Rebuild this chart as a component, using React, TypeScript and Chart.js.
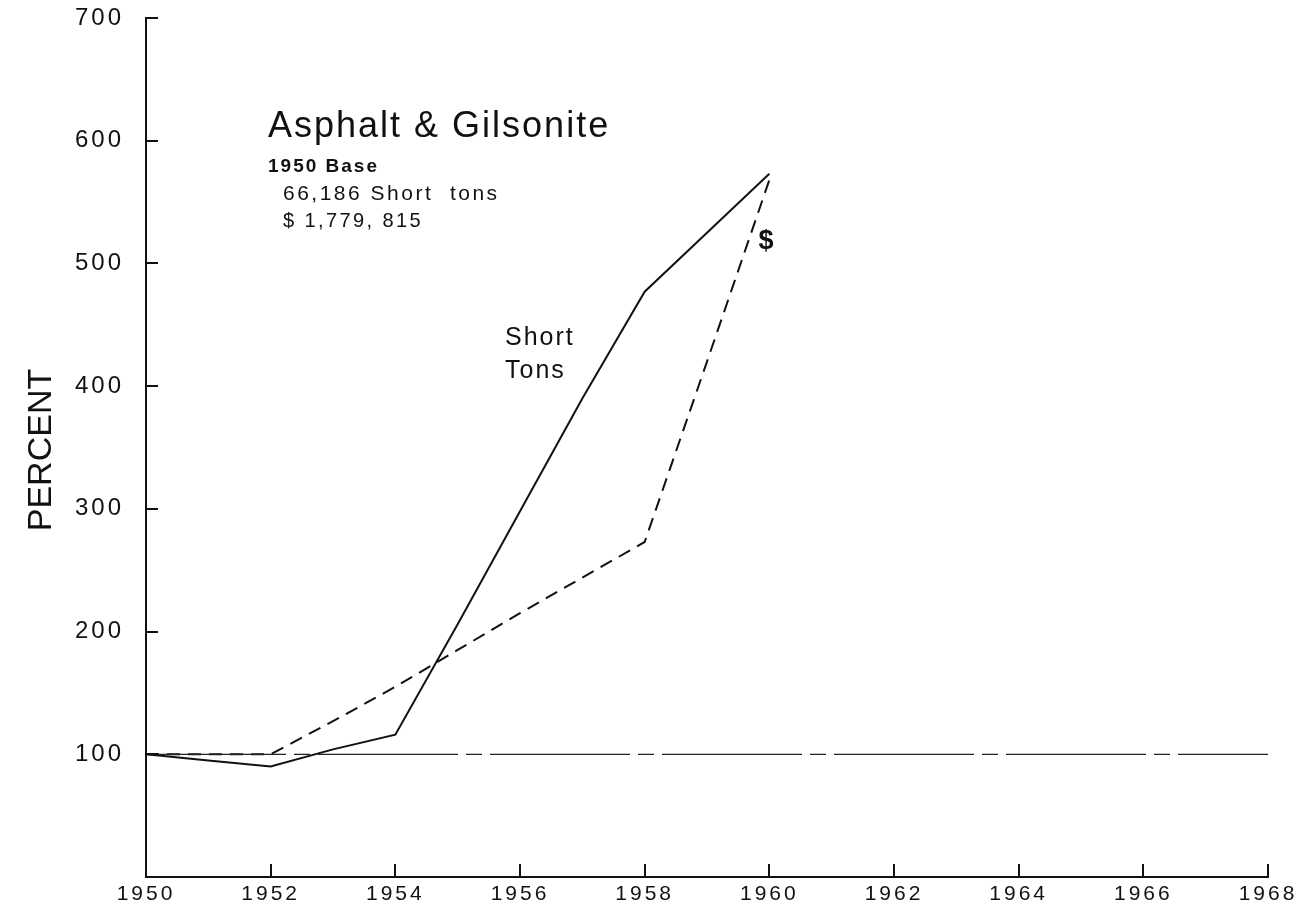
import React, { useEffect, useRef } from 'react';
import { Chart, registerables } from 'chart.js';

Chart.register(...registerables);

const years = [1950, 1951, 1952, 1953, 1954, 1955, 1956, 1957, 1958, 1959, 1960];
const shortTons = [100, 95, 90, 104, 116, 206, 298, 390, 477, 525, 573];
const dollars = [100, 100, 100, 127, 155, 185, 215, 244, 273, 420, 568];
const baseYears = [1950, 1968];
const baseValues = [100, 100];

const X_MIN = 1950;
const X_MAX = 1968;
const X_STEP = 2;
const Y_MIN = 0;
const Y_MAX = 700;
const Y_STEP = 100;

const titleText = 'Asphalt & Gilsonite';
const baseText = '1950 Base';
const tonsText = '66,186 Short  tons';
const valueText = '$ 1,779, 815';
const seriesLabel1 = ['Short', 'Tons'];
const seriesLabel2 = '$';
const yTitle = 'PERCENT';

const FONT = '"Liberation Sans", Arial, sans-serif';

const toPoints = (xs: number[], ys: number[]) => xs.map((x, i) => ({ x, y: ys[i] }));

const annotationPlugin = {
  id: 'annotations',
  beforeDraw(chart: any) {
    const ctx = chart.ctx;
    ctx.letterSpacing = '3px';
  },
  afterDraw(chart: any) {
    const ctx = chart.ctx;
    const { left, bottom } = chart.chartArea;
    const xs = chart.scales.x;
    const ys = chart.scales.y;
    ctx.save();
    ctx.strokeStyle = '#111';
    ctx.lineWidth = 2;
    // inside tick marks
    for (let v = Y_MIN + Y_STEP; v <= Y_MAX; v += Y_STEP) {
      const py = Math.round(ys.getPixelForValue(v));
      ctx.beginPath();
      ctx.moveTo(left, py);
      ctx.lineTo(left + 12, py);
      ctx.stroke();
    }
    for (let v = X_MIN + X_STEP; v <= X_MAX; v += X_STEP) {
      const px = Math.round(xs.getPixelForValue(v));
      ctx.beginPath();
      ctx.moveTo(px, bottom);
      ctx.lineTo(px, bottom - 13);
      ctx.stroke();
    }

    ctx.fillStyle = '#111';
    ctx.textAlign = 'left';
    ctx.textBaseline = 'alphabetic';

    ctx.letterSpacing = '2px';
    ctx.font = `36px ${FONT}`;
    ctx.fillText(titleText, 268, 137, 360);

    ctx.letterSpacing = '2px';
    ctx.font = `bold 19px ${FONT}`;
    ctx.fillText(baseText, 268, 172, 118);

    ctx.font = `21px ${FONT}`;
    ctx.letterSpacing = '2.5px';
    ctx.fillText(tonsText, 283, 200, 226);
    ctx.fillText(valueText, 283, 227, 140);

    ctx.font = `25px ${FONT}`;
    ctx.letterSpacing = '2px';
    ctx.fillText(seriesLabel1[0], 505, 345);
    ctx.fillText(seriesLabel1[1], 505, 378);

    ctx.font = `bold 27px ${FONT}`;
    ctx.letterSpacing = '0px';
    ctx.textAlign = 'center';
    ctx.fillText(seriesLabel2, 766, 249);

    // y-axis title
    ctx.save();
    ctx.translate(51, 450);
    ctx.rotate(-Math.PI / 2);
    ctx.font = `34px ${FONT}`;
    ctx.letterSpacing = '0px';
    ctx.textAlign = 'center';
    ctx.textBaseline = 'alphabetic';
    ctx.fillText(yTitle, 0, 0, 164);
    ctx.restore();

    ctx.restore();
  },
};

export default function App() {
  const canvasRef = useRef<HTMLCanvasElement | null>(null);

  useEffect(() => {
    const canvas = canvasRef.current;
    if (!canvas) return;
    const chart = new Chart(canvas, {
      type: 'line',
      data: {
        datasets: [
          {
            label: 'Base',
            data: toPoints(baseYears, baseValues),
            borderColor: '#222',
            borderWidth: 1.2,
            borderDash: [140, 8, 16, 8],
            pointRadius: 0,
            fill: false,
            tension: 0,
          },
          {
            label: '$',
            data: toPoints(years, dollars),
            borderColor: '#111',
            borderWidth: 2,
            borderDash: [13, 8],
            pointRadius: 0,
            fill: false,
            tension: 0,
          },
          {
            label: 'Short Tons',
            data: toPoints(years, shortTons),
            borderColor: '#111',
            borderWidth: 2,
            pointRadius: 0,
            fill: false,
            tension: 0,
          },
        ],
      },
      options: {
        responsive: false,
        animation: false,
        devicePixelRatio: 1,
        layout: { padding: { top: 18, right: 38, left: 0, bottom: 0 } },
        plugins: {
          legend: { display: false },
          tooltip: { enabled: false },
        },
        scales: {
          x: {
            type: 'linear',
            min: X_MIN,
            max: X_MAX,
            grid: { display: false, drawTicks: false },
            border: { display: true, color: '#111', width: 2 },
            ticks: {
              stepSize: X_STEP,
              color: '#111',
              padding: 5,
              maxRotation: 0,
              autoSkip: false,
              font: { family: FONT, size: 21 },
              callback: (v: any) => String(v),
            },
            afterFit: (scale: any) => {
              scale.height = 32;
              scale.paddingLeft = 0;
              scale.paddingRight = 0;
            },
          },
          y: {
            min: Y_MIN,
            max: Y_MAX,
            grid: { display: false, drawTicks: false },
            border: { display: true, color: '#111', width: 2 },
            ticks: {
              stepSize: Y_STEP,
              color: '#111',
              padding: 22,
              font: { family: FONT, size: 24 },
              callback: (v: any) => (v === 0 ? '' : String(v)),
            },
            afterFit: (scale: any) => {
              scale.width = 146;
              scale.paddingTop = 0;
              scale.paddingBottom = 0;
            },
          },
        },
      },
      plugins: [annotationPlugin],
    });
    return () => chart.destroy();
  }, []);

  return (
    <div style={{ position: 'absolute', left: 0, top: 0, width: 1306, height: 909, background: '#fff' }}>
      <canvas ref={canvasRef} width={1306} height={909} />
    </div>
  );
}
